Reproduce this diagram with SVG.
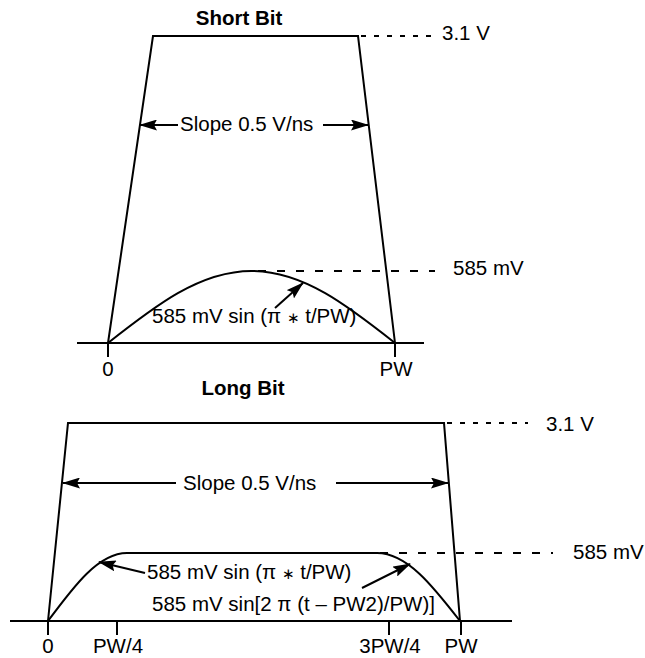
<svg xmlns="http://www.w3.org/2000/svg" width="645" height="658" viewBox="0 0 645 658">
<style>
  .ln{fill:none;stroke:#000;stroke-width:2}
  .d1{fill:none;stroke:#000;stroke-width:2;stroke-dasharray:5 8}
  .d2{fill:none;stroke:#000;stroke-width:2;stroke-dasharray:8 11}
  .ar{fill:none;stroke:#000;stroke-width:2;marker-end:url(#ah)}
  text{font-family:"Liberation Sans",Arial,Helvetica,sans-serif;font-size:20.5px;fill:#000}
  .b{font-weight:bold}
  .m{text-anchor:middle}
  .st{font-family:"DejaVu Sans",sans-serif;font-size:15px}
</style>
<defs>
  <marker id="ah" markerUnits="userSpaceOnUse" markerWidth="18" markerHeight="11" refX="17" refY="5.5" orient="auto">
    <path d="M0,0 L18,5.5 L0,11 L3,5.5 z" fill="#000"/>
  </marker>
</defs>
<rect width="645" height="658" fill="#fff"/>

<g id="short-bit">
  <text class="b m" x="239" y="25">Short Bit</text>
  <g id="short-pulse">
    <path class="ln" d="M108,343 L153,36 L358,36 L395,343"/>
  </g>
  <g id="short-axis">
    <path class="ln" d="M77,343 H424 M108,343 V357 M395,343 V357"/>
    <text class="m" x="108" y="376">0</text>
    <text class="m" x="396" y="376">PW</text>
  </g>
  <g id="short-sine">
    <path class="ln" d="M108,343 C154.8,306.1 199.6,271 251.5,271 C303.4,271 348.2,306.1 395,343"/>
  </g>
  <g id="short-31v">
    <path class="d1" d="M361,36 H432"/>
    <text x="442" y="40">3.1 V</text>
  </g>
  <g id="short-585">
    <path class="d2" d="M258,271 H435"/>
    <text x="453" y="275">585 mV</text>
  </g>
  <g id="short-slope">
    <text x="180" y="131">Slope 0.5 V/ns</text>
  </g>
  <g id="short-sine-label">
    <text x="152" y="323">585 mV sin (π <tspan class="st">∗</tspan> t/PW)</text>
  </g>
</g>

<g id="long-bit">
  <text class="b m" x="243" y="395">Long Bit</text>
  <g id="long-pulse">
    <path class="ln" d="M48,621 L68,423 L444,423 L460,621"/>
  </g>
  <g id="long-axis">
    <path class="ln" d="M10,621 H512 M48,621 V635 M117,621 V635 M389,621 V635 M461,621 V635"/>
    <text class="m" x="48" y="653">0</text>
    <text class="m" x="118" y="653">PW/4</text>
    <text class="m" x="390" y="653">3PW/4</text>
    <text class="m" x="461" y="653">PW</text>
  </g>
  <g id="long-sine">
    <path class="ln" d="M48,621 C73.8,586.2 98.4,553 127,553 L377,553 C407.1,553 433,586.2 460,621"/>
  </g>
  <g id="long-31v">
    <path class="d1" d="M447,423 H528"/>
    <text x="546" y="431">3.1 V</text>
  </g>
  <g id="long-585">
    <path class="d2" d="M380,553 H553"/>
    <text x="573" y="559">585 mV</text>
  </g>
  <g id="long-slope">
    <text x="183" y="490">Slope 0.5 V/ns</text>
  </g>
  <g id="long-sine-label-1">
    <text x="147" y="579">585 mV sin (π <tspan class="st">∗</tspan> t/PW)</text>
  </g>
  <g id="long-sine-label-2">
    <text x="152" y="611">585 mV sin[2 π (t – PW2)/PW)]</text>
  </g>
</g>

<g id="connectors">
  <path class="ar" d="M178,125 H140"/>
  <path class="ar" d="M323,125 H368"/>
  <path class="ar" d="M275,308 L303,283"/>
  <path class="ar" d="M176,483 H63"/>
  <path class="ar" d="M336,483 H448"/>
  <path class="ar" d="M145,573 L99,562"/>
  <path class="ar" d="M362,588 L410,564"/>
</g>
</svg>
